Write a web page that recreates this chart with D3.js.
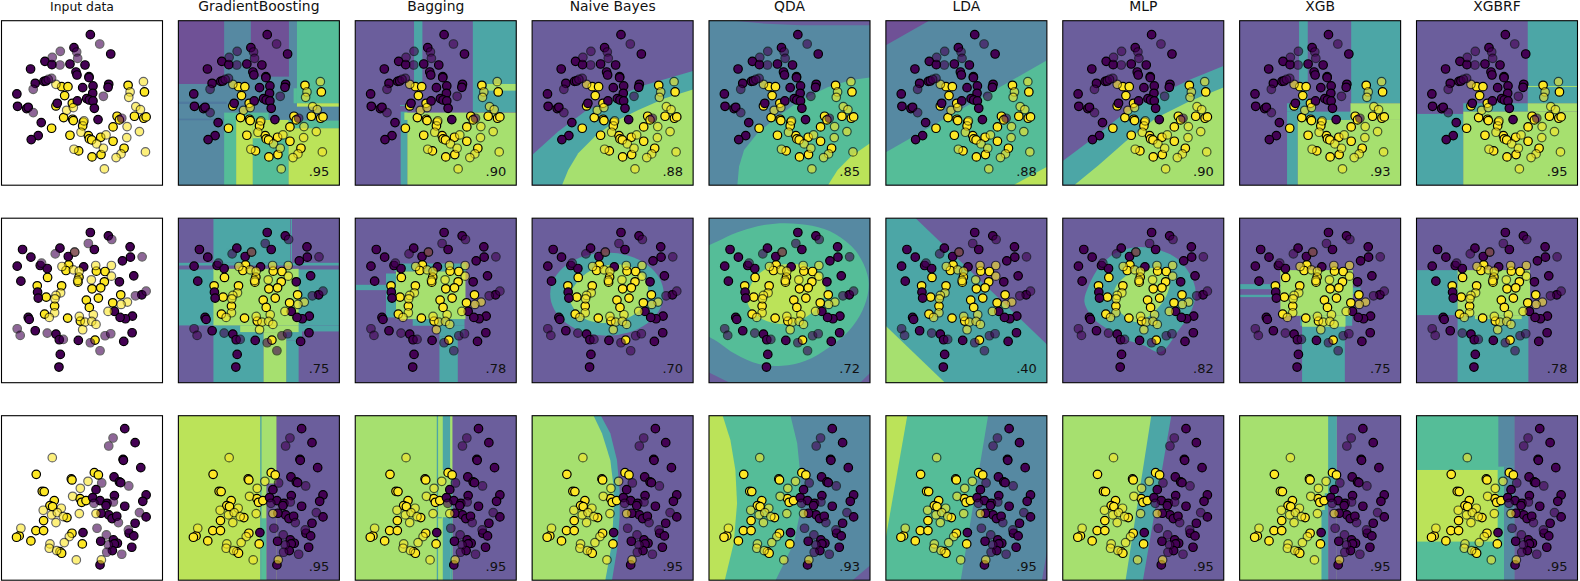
<!DOCTYPE html>
<html><head><meta charset="utf-8">
<script src="https://cdn.jsdelivr.net/npm/d3@7/dist/d3.min.js"></script>
<style>html,body{margin:0;padding:0;background:#fff;overflow:hidden}svg{display:block}text{font-family:"DejaVu Sans",sans-serif;fill:#111}</style>
</head><body><svg id="c" width="1580" height="581"></svg>
<script>
const titles=["Input data","GradientBoosting","Bagging","Naive Bayes","QDA","LDA","MLP","XGB","XGBRF"];
const scores=[
 [".95",".90",".88",".85",".88",".90",".93",".95"],
 [".75",".78",".70",".72",".40",".82",".75",".78"],
 [".95",".95",".95",".93",".95",".95",".95",".95"]];
const colors={P:"#6b5e9c",D:"#6f5196",B:"#5689a2",T:"#4ca6a6",G:"#55bd98",L:"#a6e06f",Y:"#bbe359",N:"#4f7a9f"};

// points, read in crop pixels (3x), per dataset
const trainPurple0=[[271,104],[222,143],[332,162],[135,184],[156,194],[210,192],[255,195],[92,207],[228,216],[231,225],[267,230],[267,233],[106,250],[132,244],[138,243],[326,253],[324,262],[279,258],[248,263],[278,280],[51,282],[232,303],[260,296],[268,300],[279,303],[283,325],[172,310],[53,319],[80,326],[85,322],[294,359],[124,368],[115,407],[94,419]];
const testPurple0=[[299,132],[181,154],[230,156],[233,175],[157,172],[180,195],[155,235],[145,238],[100,268],[310,289],[100,338],[365,355]];
const trainYellow0=[[185,260],[204,260],[384,256],[433,276],[194,287],[217,310],[168,318],[191,353],[218,358],[220,362],[351,349],[358,360],[403,349],[431,355],[438,351],[339,381],[250,367],[248,378],[155,385],[210,406],[265,407],[268,417],[275,420],[302,412],[339,424],[372,445],[236,453],[303,464],[276,471]];
const testYellow0=[[430,245],[390,276],[386,292],[168,253],[407,320],[421,329],[200,331],[220,323],[381,380],[418,395],[243,397],[318,405],[380,413],[290,432],[310,445],[222,448],[363,462],[348,473],[436,456],[313,507],[252,363]];

const trainPurple1=[[271,81],[325,91],[283,132],[180,128],[68,132],[93,155],[205,153],[390,124],[391,155],[367,166],[52,182],[121,180],[142,189],[251,184],[401,211],[63,227],[358,229],[113,260],[115,278],[425,268],[343,318],[397,332],[376,340],[360,336],[85,336],[88,342],[106,376],[168,386],[178,403],[396,382],[371,408],[235,405],[181,447],[177,485]];
const testPurple1=[[265,114],[335,102],[166,145],[224,140],[125,173],[426,154],[406,271],[438,257],[52,370],[61,390],[142,383],[190,402],[271,412],[300,436],[315,391],[332,385]];
const trainYellow1=[[206,178],[198,195],[289,197],[315,198],[143,216],[237,215],[234,230],[313,229],[185,241],[112,241],[276,250],[302,247],[139,275],[295,278],[362,268],[259,284],[338,292],[164,302],[268,306],[134,326],[203,338],[241,347],[285,404]];
const testYellow1=[[186,183],[287,180],[334,180],[220,193],[238,197],[334,212],[274,223],[233,225],[182,262],[168,270],[165,280],[382,290],[363,297],[324,318],[164,322],[148,336],[280,328],[238,333],[255,350],[275,348],[288,357],[248,373],[224,140]];

const trainPurple2=[[374,86],[405,128],[369,178],[370,181],[422,203],[342,231],[358,246],[362,248],[288,269],[343,287],[438,285],[428,304],[278,293],[300,302],[321,310],[318,317],[374,319],[438,351],[326,345],[336,356],[350,349],[303,340],[405,370],[387,400],[401,408],[249,398],[302,424],[340,420],[352,430],[343,432],[337,452],[395,442],[300,495]];
const testPurple2=[[339,114],[326,138],[305,249],[386,258],[282,310],[340,306],[418,338],[355,368],[291,385],[385,390],[319,405],[325,435],[320,457],[365,463]];
const trainYellow2=[[109,223],[283,218],[295,225],[214,237],[216,240],[127,274],[133,275],[163,302],[150,317],[158,320],[240,296],[245,307],[258,302],[201,353],[131,362],[108,392],[131,392],[58,408],[50,412],[93,423],[216,400],[247,432],[180,455],[185,460]];
const testYellow2=[[157,173],[264,244],[241,265],[218,289],[130,331],[184,325],[155,345],[172,338],[190,350],[168,368],[238,341],[288,341],[63,385],[208,410],[193,428],[150,432],[148,445],[170,452],[229,480],[304,480]];

const pointOrigins=[[5,62],[5,38],[5,47]];
const pointSets=[
 {tp:trainPurple0,ty:trainYellow0,vp:testPurple0,vy:testYellow0},
 {tp:trainPurple1,ty:trainYellow1,vp:testPurple1,vy:testYellow1},
 {tp:trainPurple2,ty:trainYellow2,vp:testPurple2,vy:testYellow2}];

// decision regions: crop origin, base colour, shapes (rect [x0,y0,x1,y1], polygon [[x,y]..], ellipse {e:[cx,cy,rx,ry]}); third item true = smooth outline
const surfaces0=[
 {o:[535,62],b:"B",s:[["D",[535,62,672,252]],["D",[752,62,866,230]],["G",[890,62,1018,310]],["G",[880,265,890,310]],["Y",[890,310,1018,320]],["N",[535,305,680,312]],["N",[535,356,672,361]],["G",[672,338,805,360]],["G",[672,360,708,555]],["Y",[708,360,758,555]],["G",[758,360,865,555]],["Y",[758,360,865,415]],["G",[865,362,1018,385]],["Y",[865,385,1018,555]]]},
 {o:[31,62],b:"P",s:[["T",[207,62,232,255]],["T",[383,62,515,337]],["L",[425,252,515,272]],["T",[165,315,200,318]],["T",[167,335,187,555]],["L",[178,338,515,360]],["L",[187,352,515,555]]]},
 {o:[562,62],b:"P",s:[["T",[[562,465],[640,395],[720,335],[800,295],[900,255],[1046,212],[1046,555],[562,555]]],["L",[[652,555],[670,510],[700,460],[750,410],[810,365],[880,330],[960,295],[1046,268],[1046,555]]]]},
 {o:[25,62],b:"B",s:[["P",[[100,62],[510,62],[510,76],[300,76],[180,70]]],["G",[[110,555],[115,500],[130,450],[170,400],[230,350],[300,300],[380,262],[450,240],[510,232],[510,555]]],["Y",[[382,555],[410,510],[450,470],[510,428],[510,555]]]]},
 {o:[556,62],b:"B",s:[["D",[[556,62],[685,62],[556,136]]],["G",[[556,457],[1040,180],[1040,555],[556,555]]],["Y",[[940,555],[1040,500],[1040,555]]]]},
 {o:[22,62],b:"P",s:[["T",[[22,483],[100,425],[200,345],[300,290],[400,240],[505,197],[505,555],[22,555]]],["L",[[58,555],[130,495],[210,425],[300,355],[400,305],[505,262],[505,555]]]]},
 {o:[13,62],b:"P",s:[["T",[191,62,217,320]],["T",[347,62,497,310]],["T",[155,310,240,335]],["T",[155,335,187,555]],["T",[187,335,347,360]],["L",[187,360,497,555]],["L",[345,310,497,360]]]},
 {o:[545,62],b:"P",s:[["T",[878,62,1028,310]],["L",[878,258,1028,261]],["T",[545,342,685,555]],["T",[685,310,878,335]],["L",[685,335,1028,555]],["L",[878,310,1028,335]]]}
];
const surfaces1=[
 {o:[535,38],b:"P",s:[["T",[640,38,870,172]],["T",[872,38,875,172]],["T",[535,172,1018,180]],["T",[535,192,1018,360]],["T",[640,360,790,532]],["T",[858,360,905,405]],["T",[858,405,895,532]],["T",[895,360,1018,378]],["L",[640,190,895,360]],["L",[720,360,895,380]],["L",[790,380,858,532]]]},
 {o:[18,22],b:"P",s:[["T",[18,222,110,238]],["T",[110,188,140,320]],["T",[135,158,350,182]],["T",[190,325,345,345]],["T",[270,345,345,378]],["T",[270,378,325,515]],["L",[140,182,348,325]]]},
 {o:[546,22],b:"P",s:[["T",{e:[770,250,170,125]}],["L",[[658,262],[680,215],[720,180],[780,162],[840,168],[885,205],[892,250],[865,300],[810,330],[740,335],[690,315]],true]]},
 {o:[1071,22],b:"B",s:[["P",[[1071,485],[1130,515],[1071,515]]],["P",[[1525,515],[1555,485],[1555,515]]],["G",[[1050,125],[1110,85],[1170,60],[1240,42],[1300,37],[1380,45],[1450,70],[1510,120],[1545,190],[1548,240],[1530,300],[1490,360],[1430,410],[1360,450],[1290,465],[1220,460],[1150,430],[1100,395],[1050,355]],true],["Y",[[1185,265],[1200,215],[1240,175],[1300,160],[1360,165],[1405,195],[1420,240],[1395,290],[1350,325],[1290,340],[1230,325],[1195,295]],true]]},
 {o:[16,38],b:"T",s:[["P",[[105,38],[499,38],[499,418]]],["L",[[16,362],[193,532],[16,532]]]]},
 {o:[547,38],b:"P",s:[["T",[[612,290],[625,240],[660,180],[710,140],[770,125],[840,135],[890,160],[930,210],[945,260],[930,320],[890,380],[840,440],[790,420],[730,400],[680,370],[640,340]],true],["L",[[700,260],[720,225],[770,195],[830,190],[865,220],[860,265],[820,320],[770,350],[730,330],[705,300]],true]]},
 {o:[13,652],b:"P",s:[["T",[13,850,135,865]],["T",[13,882,135,889]],["T",[200,975,328,1147]],["T",[195,945,350,975]],["T",[350,860,375,880]],["L",[135,808,352,945]],["L",[200,945,330,978]]]},
 {o:[545,652],b:"P",s:[["T",[545,808,668,943]],["T",[668,945,880,1147]],["L",[668,808,885,945]],["L",[720,945,860,955]]]}
];
const surfaces2=[
 {o:[535,47],b:"Y",s:[["P",[828,47,1018,541]],["P",[798,250,828,541]],["L",[783,47,828,250]],["L",[783,250,798,355]],["G",[783,355,798,541]],["T",[780,47,784,541]]]},
 {o:[16,17],b:"L",s:[["P",[307,17,498,512]],["T",[260,17,264,512]],["T",[278,17,300,180]],["T",[302,180,307,512]],["T",[278,322,302,512]],["T",[260,322,275,325]]]},
 {o:[546,17],b:"P",s:[["T",[[546,17],[752,17],[780,70],[800,150],[808,240],[808,320],[800,420],[785,512],[546,512]]],["L",[[546,17],[730,17],[755,70],[780,150],[790,230],[790,300],[785,400],[765,512],[546,512]]]]},
 {o:[1071,17],b:"G",s:[["Y",[[1071,17],[1112,17],[1135,90],[1150,180],[1155,280],[1145,400],[1118,512],[1071,512]]],["B",[[1315,17],[1335,100],[1345,200],[1345,300],[1325,400],[1270,512],[1555,512],[1555,17]]],["P",[[1555,465],[1500,512],[1555,512]]]]},
 {o:[16,17],b:"G",s:[["Y",[[16,17],[80,17],[16,382]]],["B",[[322,17],[240,512],[499,512],[499,17]]],["P",[[499,420],[483,512],[499,512]]]]},
 {o:[547,17],b:"T",s:[["L",[[547,17],[812,17],[735,512],[547,512]]],["P",[[872,17],[787,512],[1031,512],[1031,17]]]]},
 {o:[13,17],b:"L",s:[["T",[278,17,304,250]],["T",[268,250,304,300]],["T",[258,300,278,512]],["P",[304,17,497,512]],["P",[278,280,304,512]]]},
 {o:[545,17],b:"G",s:[["B",[790,17,838,170]],["B",[807,170,838,512]],["P",[838,17,1028,512]],["Y",[545,180,788,395]]]}
];
const surfaces=[surfaces0,surfaces1,surfaces2];

const svg=d3.select("#c");
const panelW=161, panelH=164.5;
const colX=d3.scaleLinear().domain([0,8]).range([1.5,1416.5]);
const rowY=d3.scaleLinear().domain([0,2]).range([20.7,415.7]);
const x=d3.scaleLinear().domain([0,482]).range([0,panelW]);
const y=d3.scaleLinear().domain([0,494]).range([0,panelH]);
const defs=svg.append("defs");
const line=d3.line().x(d=>x(d[0])).y(d=>y(d[1])).curve(d3.curveLinearClosed);
const smooth=d3.line().x(d=>x(d[0])).y(d=>y(d[1])).curve(d3.curveCatmullRomClosed);

function drawPoints(g,row){
  const [ox,oy]=pointOrigins[row], ps=pointSets[row];
  const layer=(data,fill,op)=>g.append("g").selectAll("circle").data(data).join("circle")
    .attr("cx",d=>x(d[0]-ox)).attr("cy",d=>y(d[1]-oy)).attr("r",4.25)
    .attr("fill",fill).attr("stroke","#000").attr("stroke-width",1.2).attr("opacity",op);
  layer(ps.ty,"#fde725",1);
  layer(ps.tp,"#440154",1);
  layer(ps.vy,"#fde725",0.6);
  layer(ps.vp,"#440154",0.6);
}

d3.range(3).forEach(row=>{
  d3.range(9).forEach(col=>{
    const g=svg.append("g").attr("transform",`translate(${colX(col)},${rowY(row)})`);
    const id=`clip${row}${col}`;
    defs.append("clipPath").attr("id",id).append("rect").attr("width",panelW).attr("height",panelH);
    if(col>0){
      const sf=surfaces[row][col-1], [ox,oy]=sf.o;
      const bg=g.append("g").attr("clip-path",`url(#${id})`);
      bg.append("rect").attr("width",panelW).attr("height",panelH).attr("fill",colors[sf.b]);
      sf.s.forEach(([c,v,sm])=>{
        if(v.e){
          bg.append("ellipse").attr("cx",x(v.e[0]-ox)).attr("cy",y(v.e[1]-oy)).attr("rx",x(v.e[2])).attr("ry",y(v.e[3])).attr("fill",colors[c]);
        } else if(Array.isArray(v[0])){
          bg.append("path").attr("d",(sm?smooth:line)(v.map(p=>[p[0]-ox,p[1]-oy]))).attr("fill",colors[c]);
        } else {
          bg.append("rect").attr("x",x(v[0]-ox)).attr("y",y(v[1]-oy)).attr("width",x(v[2]-v[0])).attr("height",y(v[3]-v[1])).attr("fill",colors[c]);
        }
      });
    }
    drawPoints(g.append("g").attr("clip-path",`url(#${id})`),row);
    g.append("rect").attr("width",panelW).attr("height",panelH).attr("fill","none").attr("stroke","#000").attr("stroke-width",1.1);
    if(col>0) g.append("text").attr("x",panelW-10).attr("y",panelH-9.5).attr("text-anchor","end").attr("font-size",13).text(scores[row][col-1]);
    if(row===0) svg.append("text").attr("x",colX(col)+panelW/2).attr("y",col===0?10.5:11).attr("text-anchor","middle").attr("font-size",col===0?12.4:13.9).text(titles[col]);
  });
});
</script></body></html>
